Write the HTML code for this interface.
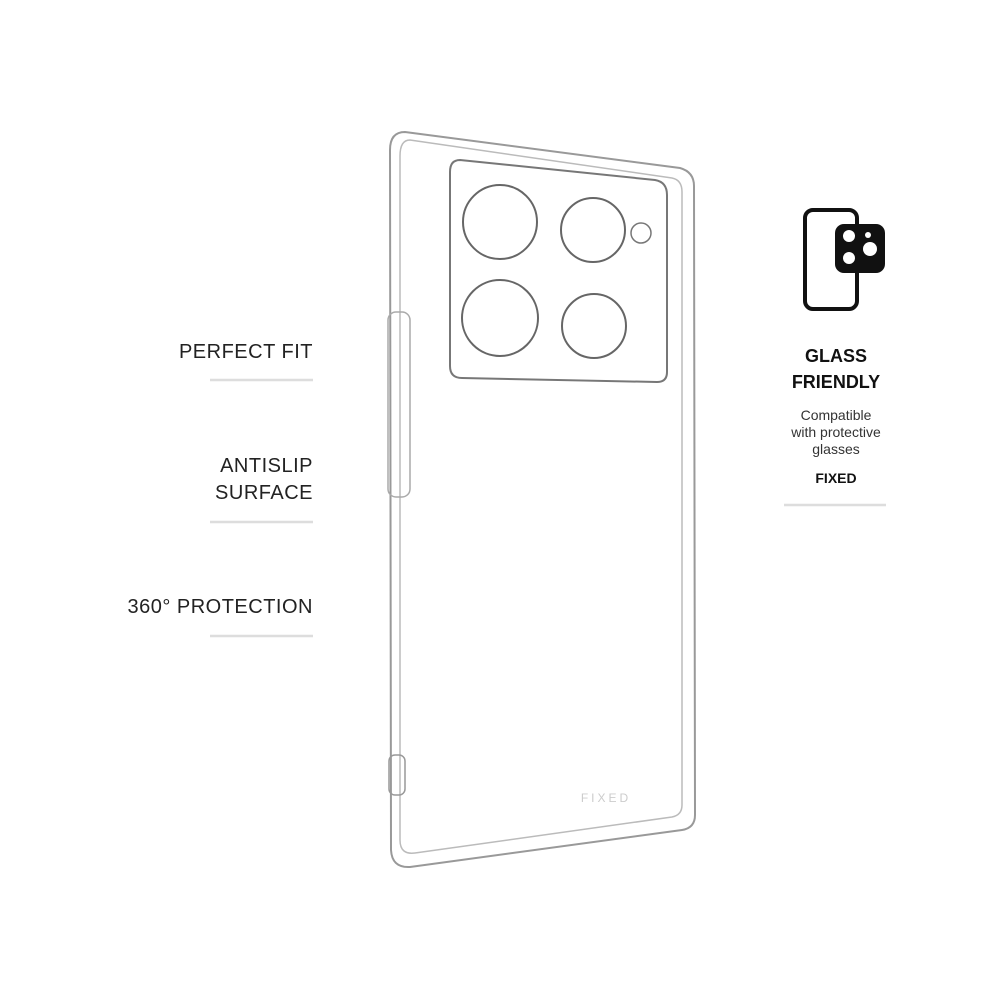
<!DOCTYPE html>
<html><head><meta charset="utf-8"><style>
html,body{margin:0;padding:0;background:#fff;}
svg{display:block}
text{font-family:"Liberation Sans",sans-serif;}
</style></head><body>
<svg width="1000" height="1000" viewBox="0 0 1000 1000" xmlns="http://www.w3.org/2000/svg">
<rect width="1000" height="1000" fill="#fff"/>
<!-- left labels -->
<g fill="#222" font-size="20" text-anchor="end" letter-spacing="0.5">
<text x="313" y="358">PERFECT FIT</text>
<text x="313" y="472">ANTISLIP</text>
<text x="313" y="499">SURFACE</text>
<text x="313" y="613">360° PROTECTION</text>
</g>
<g stroke="#ddd" stroke-width="2.5">
<line x1="210" y1="380" x2="313" y2="380"/>
<line x1="210" y1="522" x2="313" y2="522"/>
<line x1="210" y1="636" x2="313" y2="636"/>
<line x1="784" y1="505" x2="886" y2="505"/>
</g>
<!-- phone case -->
<g fill="none" stroke="#888" stroke-width="1.5">
<path d="M405,132 L680,168 Q694,172 694,186 L695,815 Q695,828 682,830 L410,867 Q392,868 391,850 L390,150 Q390,132 405,132 Z" stroke="#999" stroke-width="2"/>
<path d="M410,140 L672,178 Q682,180 682,192 L682,805 Q682,815 672,817 L415,853 Q400,855 400,840 L400,156 Q400,140 410,140 Z" stroke="#bbb"/>
<path d="M460,160 L655,180 Q667,182 667,195 L667,372 Q667,382 657,382 L462,378 Q450,378 450,366 L450,172 Q450,160 460,160 Z" stroke="#777" stroke-width="2"/>
<circle cx="500" cy="222" r="37" stroke="#666" stroke-width="2"/>
<circle cx="593" cy="230" r="32" stroke="#666" stroke-width="2"/>
<circle cx="641" cy="233" r="10" stroke="#777"/>
<circle cx="500" cy="318" r="38" stroke="#666" stroke-width="2"/>
<circle cx="594" cy="326" r="32" stroke="#666" stroke-width="2"/>
<rect x="388" y="312" width="22" height="185" rx="8" stroke="#aaa"/>
<rect x="389" y="755" width="16" height="40" rx="6" stroke="#999"/>
</g>
<text x="606" y="802" fill="#ccc" font-size="12" letter-spacing="3" text-anchor="middle">FIXED</text>
<!-- icon -->
<rect x="805" y="210" width="52" height="99" rx="8" fill="#fff" stroke="#111" stroke-width="4"/>
<rect x="835" y="224" width="50" height="49" rx="9" fill="#111"/>
<circle cx="849" cy="236" r="6" fill="#fff"/>
<circle cx="849" cy="258" r="6" fill="#fff"/>
<circle cx="870" cy="249" r="7" fill="#fff"/>
<circle cx="868" cy="235" r="3" fill="#fff"/>
<!-- right text -->
<g text-anchor="middle" fill="#111">
<text x="836" y="362" font-size="18" font-weight="bold">GLASS</text>
<text x="836" y="388" font-size="18" font-weight="bold">FRIENDLY</text>
<text x="836" y="420" font-size="14" fill="#333">Compatible</text>
<text x="836" y="437" font-size="14" fill="#333">with protective</text>
<text x="836" y="454" font-size="14" fill="#333">glasses</text>
<text x="836" y="483" font-size="14" font-weight="bold">FIXED</text>
</g>
</svg>
</body></html>
